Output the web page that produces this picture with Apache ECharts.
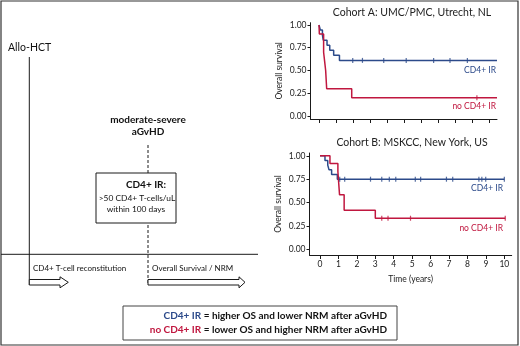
<!DOCTYPE html>
<html>
<head>
<meta charset="utf-8">
<script src="https://cdn.jsdelivr.net/npm/echarts@6.0.0/dist/echarts.min.js"></script>
<style>
  html, body { margin: 0; padding: 0; background: #fff; }
  #chart { width: 520px; height: 346px; }
</style>
</head>
<body>
<div id="chart"></div>
<script>
// Cohort A (Utrecht) - survival steps
const aIrTime = [0, 0.08, 0.2, 0.25, 0.47, 0.63, 0.86, 1.2, 10.45];
const aIrSurv = [1, 0.944, 0.889, 0.833, 0.778, 0.722, 0.667, 0.611, 0.611];
const aIrCens = [1.98, 2.55, 3.8, 5.12, 6.73, 7.69, 8.71];
const aNoTime = [0, 0.02, 0.27, 0.33, 0.39, 0.45, 1.92, 10.45];
const aNoSurv = [1, 0.9, 0.7, 0.6, 0.5, 0.3, 0.2, 0.2];
const aNoCens = [9.27];

// Cohort B (MSKCC)
const bIrTime = [0, 0.27, 0.42, 0.49, 0.63, 0.94, 10.0];
const bIrSurv = [1, 0.95, 0.9, 0.85, 0.8, 0.75, 0.75];
const bIrCens = [1.07, 1.34, 2.74, 3.35, 3.76, 4.11, 5.17, 5.46, 6.86, 7.2, 8.62, 8.78, 8.99, 10.0];
const bNoTime = [0, 0.54, 0.97, 1.06, 1.31, 3.0, 10.05];
const bNoSurv = [1, 0.917, 0.833, 0.583, 0.417, 0.333, 0.333];
const bNoCens = [3.35, 3.69, 4.91, 10.05];

const xTicks = [0, 1, 2, 3, 4, 5, 6, 7, 8, 9, 10];
const yTicks = [0, 0.25, 0.5, 0.75, 1];

const BLUE = '#2c4a8a';
const RED = '#c0173f';
const INK = '#1a1a1a';
const FONT = 'Lato, "Noto Sans", sans-serif';

function survAt(times, surv, t) {
  let s = surv[0];
  for (let i = 0; i < times.length; i++) {
    if (times[i] <= t) s = surv[i];
  }
  return s;
}
const zip = (xs, ys) => xs.map((x, i) => [x, ys[i]]);

function curve(times, surv, color, idx) {
  return {
    type: 'line', step: 'end', xAxisIndex: idx, yAxisIndex: idx,
    data: zip(times, surv), symbol: 'none', silent: true,
    lineStyle: { color: color, width: 1.5 }
  };
}
function censors(times, surv, cens, color, idx) {
  return {
    type: 'scatter', xAxisIndex: idx, yAxisIndex: idx, silent: true,
    data: cens.map(t => [t, survAt(times, surv, t)]),
    symbol: 'rect', symbolSize: [1.2, 5],
    itemStyle: { color: color }, z: 5
  };
}

function xAx(idx, min, max, showLabel) {
  return {
    type: 'value', gridIndex: idx, min: min, max: max,
    axisLine: { show: true, onZero: false, lineStyle: { color: INK, width: 1 } },
    axisTick: { show: true, customValues: xTicks, length: 4, lineStyle: { color: INK } },
    axisLabel: {
      show: showLabel, customValues: xTicks, fontSize: 8.5, color: '#222',
      fontFamily: FONT, margin: 5
    },
    splitLine: { show: false },
    name: showLabel ? 'Time (years)' : '', nameLocation: 'middle', nameGap: 20,
    nameTextStyle: { fontSize: 8.5, color: '#222', fontFamily: FONT }
  };
}
function yAx(idx, min, max) {
  return {
    type: 'value', gridIndex: idx, min: min, max: max,
    axisLine: { show: true, onZero: false, lineStyle: { color: INK, width: 1 } },
    axisTick: { show: true, customValues: yTicks, length: 3, lineStyle: { color: INK } },
    axisLabel: {
      customValues: yTicks, fontSize: 8.5, color: '#222', fontFamily: FONT, margin: 4,
      formatter: v => v.toFixed(2)
    },
    splitLine: { show: false },
    name: 'Overall survival', nameLocation: 'middle', nameRotate: 90, nameGap: 27,
    nameTextStyle: { fontSize: 8.5, color: '#222', fontFamily: FONT }
  };
}

function txt(text, x, y, opts) {
  return {
    type: 'text', silent: true,
    style: Object.assign({
      text: text, x: x, y: y, fontSize: 9, fontFamily: FONT, fill: '#111',
      align: 'left', verticalAlign: 'middle'
    }, opts || {})
  };
}
function ln(x1, y1, x2, y2, dash) {
  return {
    type: 'line', silent: true,
    shape: { x1: x1, y1: y1, x2: x2, y2: y2 },
    style: { stroke: INK, lineWidth: 1, lineDash: dash ? [3, 2] : null }
  };
}
function arrow(x0, x1, tip) {
  return {
    type: 'polygon', silent: true,
    shape: { points: [[x0, 279.5], [x1, 279.5], [x1, 276.8], [tip, 282.3], [x1, 287.8], [x1, 285], [x0, 285]] },
    style: { fill: '#fff', stroke: INK, lineWidth: 1 }
  };
}

const chart = echarts.init(document.getElementById('chart'));

const option = {
  animation: false,
  grid: [
    { left: 310.5, top: 22.7, width: 186.5, height: 96.3 },
    { left: 309.5, top: 153, width: 202.2, height: 102 }
  ],
  xAxis: [xAx(0, -0.5, 10.45, false), xAx(1, -0.57, 10.4, true)],
  yAxis: [yAx(0, -0.033, 1.025), yAx(1, -0.06, 1.03)],
  series: [
    curve(aIrTime, aIrSurv, BLUE, 0),
    curve(aNoTime, aNoSurv, RED, 0),
    censors(aIrTime, aIrSurv, aIrCens, BLUE, 0),
    censors(aNoTime, aNoSurv, aNoCens, RED, 0),
    curve(bIrTime, bIrSurv, BLUE, 1),
    curve(bNoTime, bNoSurv, RED, 1),
    censors(bIrTime, bIrSurv, bIrCens, BLUE, 1),
    censors(bNoTime, bNoSurv, bNoCens, RED, 1)
  ],
  graphic: [
    // outer frame
    { type: 'rect', silent: true, shape: { x: 1, y: 1, width: 517, height: 344 },
      style: { fill: null, stroke: '#333', lineWidth: 1.2 } },

    // panel titles + curve labels
    txt('Cohort A: UMC/PMC, Utrecht, NL', 412, 13, { fontSize: 10.5, align: 'center', fill: '#222' }),
    txt('Cohort B: MSKCC, New York, US', 412, 143, { fontSize: 10.5, align: 'center', fill: '#222' }),
    txt('CD4+ IR', 496, 70, { fontSize: 8.5, align: 'right', fill: BLUE }),
    txt('no CD4+ IR', 496, 106, { fontSize: 8.5, align: 'right', fill: RED }),
    txt('CD4+ IR', 503, 188, { fontSize: 8.5, align: 'right', fill: BLUE }),
    txt('no CD4+ IR', 503, 228, { fontSize: 8.5, align: 'right', fill: RED }),

    // timeline diagram
    txt('Allo-HCT', 8, 48, { fontSize: 10.5 }),
    ln(29.3, 57, 29.3, 285),
    ln(148, 145, 148, 285, true),
    ln(1, 254.3, 258, 254.3),
    arrow(29.3, 60, 68.3),
    arrow(148, 239, 245),
    txt('moderate-severe', 148, 120, { fontSize: 10, fontWeight: 'bold', align: 'center' }),
    txt('aGvHD', 148, 132, { fontSize: 10, fontWeight: 'bold', align: 'center' }),
    { type: 'rect', silent: true, shape: { x: 96, y: 173, width: 80, height: 50 },
      style: { fill: '#fff', stroke: INK, lineWidth: 1 } },
    txt('CD4+ IR:', 146, 185, { fontSize: 10, fontWeight: 'bold', align: 'center' }),
    txt('>50 CD4+ T-cells/uL', 137, 198, { fontSize: 8.4, align: 'center' }),
    txt('within 100 days', 136, 209.5, { fontSize: 8.4, align: 'center' }),
    txt('CD4+ T-cell reconstitution', 33, 268, { fontSize: 8 }),
    txt('Overall Survival / NRM', 152, 268, { fontSize: 8 }),

    // conclusion box
    { type: 'rect', silent: true, shape: { x: 123, y: 306, width: 274, height: 34 },
      style: { fill: '#fff', stroke: '#444', lineWidth: 1 } },
    {
      type: 'text', silent: true,
      style: {
        text: '{b|CD4+ IR} {k|= higher OS and lower NRM after aGvHD}\n{r|no CD4+ IR} {k|= lower OS and higher NRM after aGvHD}',
        x: 387, y: 322.5, align: 'right', verticalAlign: 'middle',
        fontFamily: FONT, fontSize: 10, fontWeight: 'bold',
        rich: {
          b: { fill: BLUE, fontSize: 10, fontWeight: 'bold', fontFamily: FONT, lineHeight: 14 },
          r: { fill: RED, fontSize: 10, fontWeight: 'bold', fontFamily: FONT, lineHeight: 14 },
          k: { fill: '#111', fontSize: 10, fontWeight: 'bold', fontFamily: FONT, lineHeight: 14 }
        }
      }
    }
  ]
};

chart.setOption(option);
</script>
</body>
</html>
